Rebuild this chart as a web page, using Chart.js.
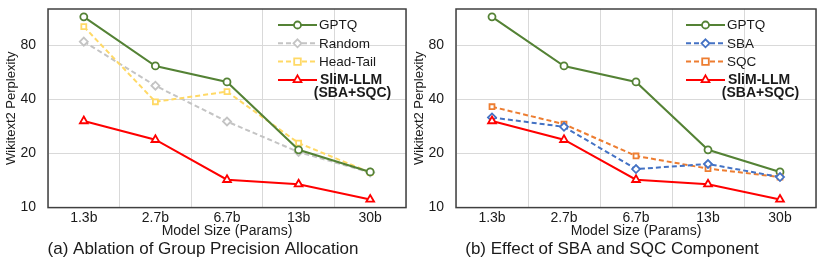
<!DOCTYPE html>
<html>
<head>
<meta charset="utf-8">
<script src="https://cdn.jsdelivr.net/npm/chart.js@4/dist/chart.umd.min.js"></script>
<style>
html,body{margin:0;padding:0;background:#fff;}
#wrap{position:relative;width:830px;height:263px;overflow:hidden;}
.box{position:absolute;top:0;height:263px;}
</style>
</head>
<body>
<div id="wrap">
  <div class="box" style="left:0;width:415px;"><canvas id="cA"></canvas></div>
  <div class="box" style="left:408px;width:422px;"><canvas id="cB"></canvas></div>
</div>
<script>
// ---- data ----
const categories = ['1.3b', '2.7b', '6.7b', '13b', '30b'];
const gptq     = [115.7, 61.6, 50.2, 21.0, 15.8];
const randomAl = [84.2, 47.8, 30.2, 20.4, 15.7];
const headTail = [102.1, 38.9, 44.3, 22.9, 15.7];
const slimLLM  = [30.4, 23.9, 14.3, 13.5, 11.1];
const sba      = [31.8, 28.2, 16.4, 17.5, 14.8];
const sqc      = [36.5, 29.2, 19.4, 16.5, 14.8];
const yTicks   = [10, 20, 40, 80];
const yMin = 10, yMax = 128;

const FONT = "'Liberation Sans', Arial, sans-serif";
const TXT = '#1a1a1a';

const C = {
  gptq: '#548235', random: '#c4c4c4', head: '#ffd966',
  slim: '#ff0000', sba: '#4472c4', sqc: '#ed7d31'
};

function ds(label, data, color, style, dashed, order, legendLines) {
  return {
    label, data, borderColor: color, backgroundColor: '#ffffff',
    borderWidth: 2, borderDash: dashed ? [5, 3] : [],
    pointStyle: style, pointRadius: style === 'triangle' ? 4.5 : (style === 'rectRot' ? 4 : 3.5),
    pointBorderWidth: 1.8, pointBackgroundColor: '#ffffff', pointBorderColor: color,
    pointHoverRadius: 4, tension: 0, order, legendLines
  };
}

function drawMarker(ctx, style, x, y, color) {
  ctx.save();
  ctx.setLineDash([]);
  ctx.fillStyle = '#fff';
  ctx.strokeStyle = color;
  ctx.lineWidth = 1.8;
  ctx.beginPath();
  if (style === 'circle') {
    ctx.arc(x, y, 3.5, 0, Math.PI * 2);
  } else if (style === 'rect') {
    ctx.rect(x - 3.3, y - 3.3, 6.6, 6.6);
  } else if (style === 'rectRot') {
    ctx.moveTo(x, y - 4); ctx.lineTo(x + 4, y); ctx.lineTo(x, y + 4); ctx.lineTo(x - 4, y); ctx.closePath();
  } else if (style === 'triangle') {
    const r = 4.5;
    ctx.moveTo(x, y - r); ctx.lineTo(x + r * 0.866, y + r * 0.5); ctx.lineTo(x - r * 0.866, y + r * 0.5); ctx.closePath();
  }
  ctx.fill(); ctx.stroke();
  ctx.restore();
}

const framePlugin = {
  id: 'frameAndLegend',
  afterDatasetsDraw(chart, args, opts) {
    const ctx = chart.ctx, a = chart.chartArea;
    ctx.save();
    ctx.strokeStyle = '#404040';
    ctx.lineWidth = 1.5;
    ctx.strokeRect(a.left, a.top, a.right - a.left, a.bottom - a.top);
    ctx.restore();
    const lineEnd = a.right - opts.rightGap;
    const lineStart = lineEnd - 39;
    const textX = lineEnd + 2;
    let y = a.top + 16;
    chart.data.datasets.forEach((d) => {
      ctx.save();
      ctx.strokeStyle = d.borderColor;
      ctx.lineWidth = 2;
      ctx.setLineDash(d.borderDash);
      ctx.beginPath();
      ctx.moveTo(lineStart, y); ctx.lineTo(lineEnd, y);
      ctx.stroke();
      ctx.restore();
      drawMarker(ctx, d.pointStyle, (lineStart + lineEnd) / 2, y, d.borderColor);
      ctx.save();
      ctx.fillStyle = TXT;
      ctx.textBaseline = 'middle';
      if (d.legendLines) {
        ctx.font = 'bold 14px ' + FONT;
        ctx.textAlign = 'center';
        d.legendLines.forEach((t, i) => ctx.fillText(t, textX + 32 + i * 1.5, y + i * 13));
      } else {
        ctx.font = '13.5px ' + FONT;
        ctx.textAlign = 'left';
        ctx.fillText(d.label, textX, y + 0.5);
      }
      ctx.restore();
      y += 18.3;
    });
  }
};

function makeOptions(caption, rightPad, rightGap) {
  return {
    responsive: true, maintainAspectRatio: false, animation: false,
    layout: { padding: { left: 0, right: rightPad, top: 9, bottom: 0 } },
    plugins: {
      legend: { display: false },
      tooltip: { enabled: false },
      title: {
        display: true, position: 'bottom', text: caption, color: TXT,
        font: { family: FONT, size: 17, weight: 'normal', lineHeight: 1.2 },
        padding: { top: 0, bottom: 3 }
      },
      frameAndLegend: { rightGap }
    },
    scales: {
      x: {
        type: 'category', offset: true,
        grid: { offset: true, color: '#d9d9d9', lineWidth: 1, drawTicks: false },
        border: { display: false },
        ticks: { color: TXT, padding: 2, font: { family: FONT, size: 14 } },
        title: {
          display: true, text: 'Model Size (Params)', color: TXT,
          font: { family: FONT, size: 14 }, padding: { top: 0, bottom: 0 }
        },
        afterFit(s) { s.height = 32; s.paddingLeft = 0; s.paddingRight = 0; }
      },
      y: {
        type: 'logarithmic', min: yMin, max: yMax,
        grid: { color: '#d9d9d9', lineWidth: 1, drawTicks: false },
        border: { display: false },
        afterBuildTicks(s) { s.ticks = yTicks.map(v => ({ value: v })); },
        ticks: {
          color: TXT, padding: 12, font: { family: FONT, size: 14 },
          callback: (v) => String(v)
        },
        title: {
          display: true, text: 'Wikitext2 Perplexity', color: TXT,
          font: { family: FONT, size: 13 }, padding: { top: 4, bottom: 0 }
        },
        afterFit(s) { s.width = 48; s.paddingTop = 0; s.paddingBottom = 0; }
      }
    }
  };
}

new Chart(document.getElementById('cA'), {
  type: 'line',
  data: {
    labels: categories,
    datasets: [
      ds('GPTQ', gptq, C.gptq, 'circle', false, 2),
      ds('Random', randomAl, C.random, 'rectRot', true, 4),
      ds('Head-Tail', headTail, C.head, 'rect', true, 3),
      ds('SliM-LLM (SBA+SQC)', slimLLM, C.slim, 'triangle', false, 1, ['SliM-LLM', '(SBA+SQC)'])
    ]
  },
  options: makeOptions('(a) Ablation of Group Precision Allocation', 9, 89),
  plugins: [framePlugin]
});

new Chart(document.getElementById('cB'), {
  type: 'line',
  data: {
    labels: categories,
    datasets: [
      ds('GPTQ', gptq, C.gptq, 'circle', false, 4),
      ds('SBA', sba, C.sba, 'rectRot', true, 2),
      ds('SQC', sqc, C.sqc, 'rect', true, 3),
      ds('SliM-LLM (SBA+SQC)', slimLLM, C.slim, 'triangle', false, 1, ['SliM-LLM', '(SBA+SQC)'])
    ]
  },
  options: makeOptions('(b) Effect of SBA and SQC Component', 14, 91),
  plugins: [framePlugin]
});
</script>
</body>
</html>
